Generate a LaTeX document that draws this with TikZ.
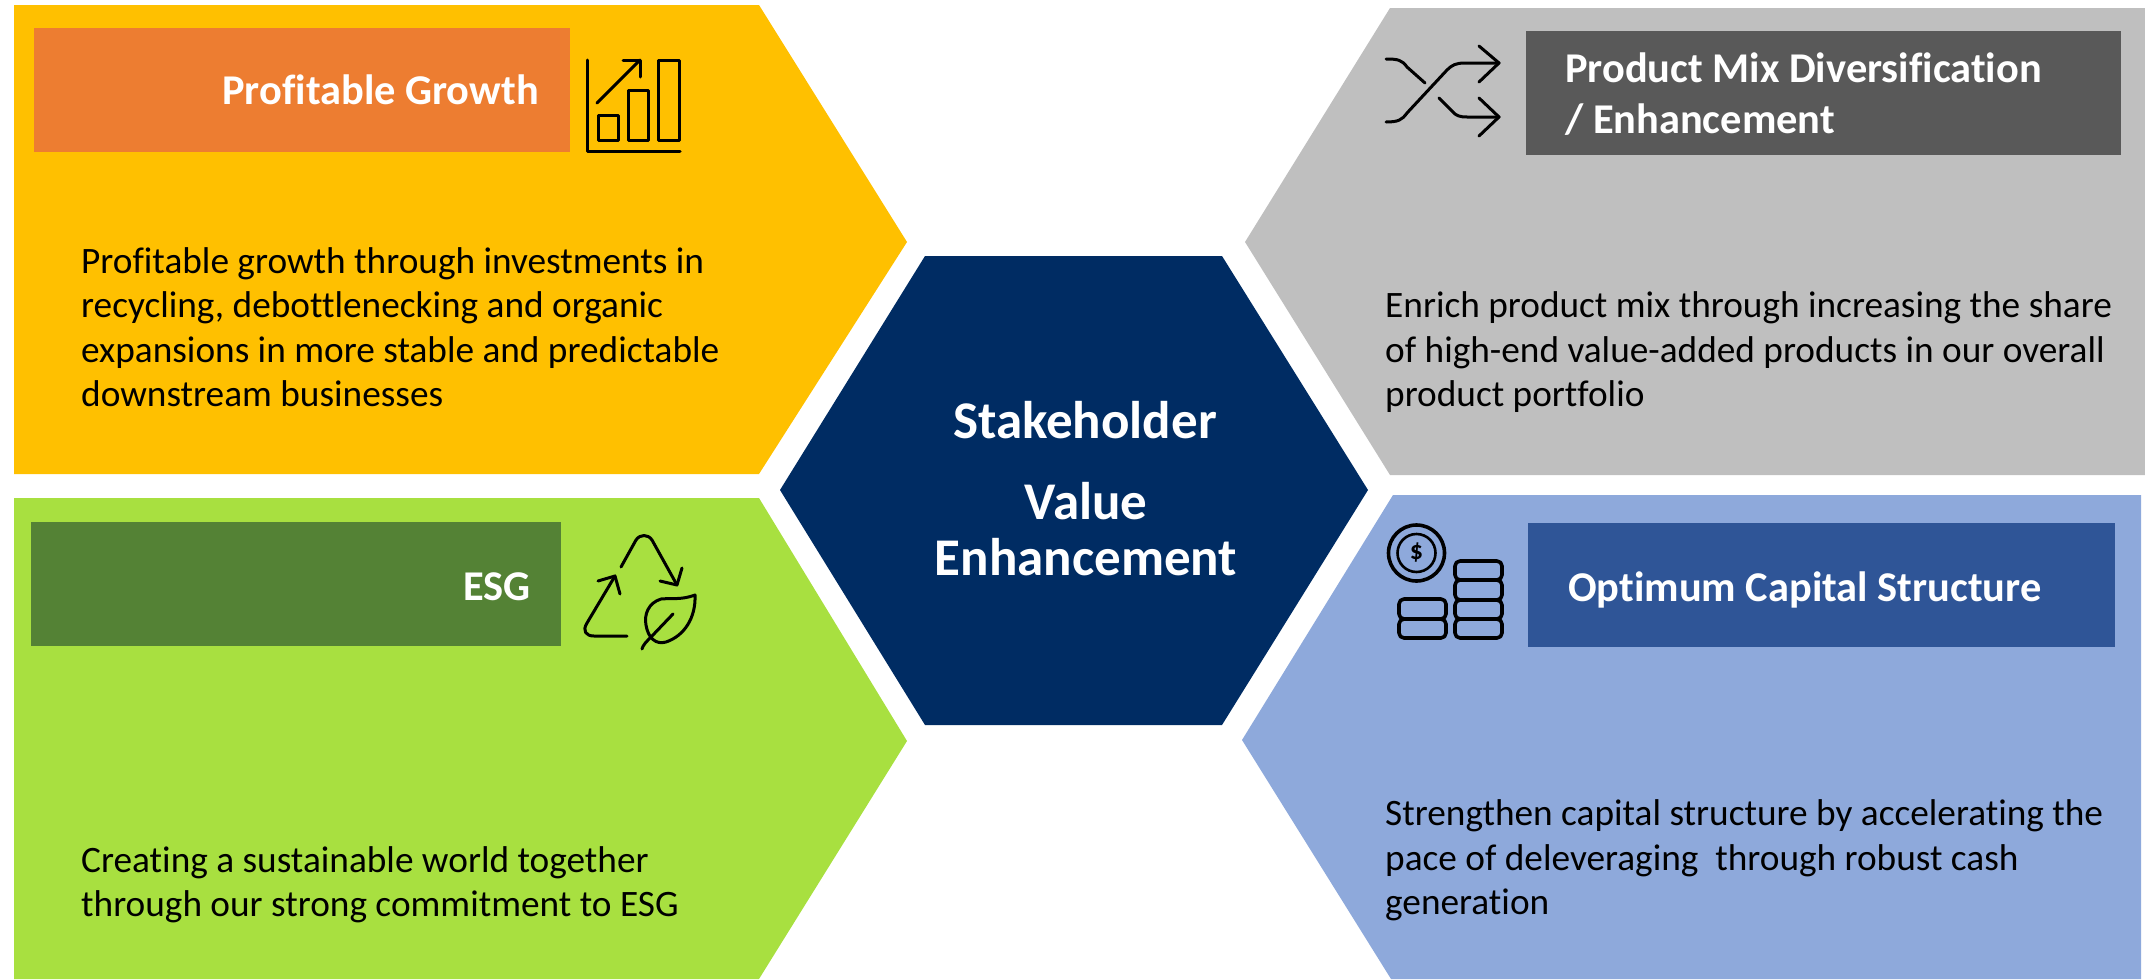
\documentclass[tikz,border=0pt]{standalone}
\usepackage{fontspec}
\setmainfont[Ligatures=CommonOff]{Carlito}
\tikzset{
 x=1pt,y=-1pt,
 bodytxt/.style={anchor=base west,inner sep=0pt,text=black,font=\fontsize{37.3}{44}\selectfont},
 headtxt/.style={inner sep=0pt,text=white,font=\fontsize{42.4}{50}\selectfont\bfseries},
 centertxt/.style={anchor=base,inner sep=0pt,text=white,font=\fontsize{53}{60}\selectfont\bfseries},
 icon/.style={draw=black,line width=3pt,line cap=round,line join=round},
 coinline/.style={icon,line width=3.6pt,rounded corners=5pt},
}
\definecolor{cyel}{HTML}{FFC000}\definecolor{cora}{HTML}{ED7D31}
\definecolor{cgry}{HTML}{BFBFBF}\definecolor{cdgr}{HTML}{595959}
\definecolor{cgrn}{HTML}{A8E040}\definecolor{cdgn}{HTML}{548235}
\definecolor{cblu}{HTML}{8EA9DB}\definecolor{cdbl}{HTML}{2F5597}
\definecolor{cnav}{HTML}{002C63}
\begin{document}
\begin{tikzpicture}
\useasboundingbox (0,0) rectangle (2145,980);
% panels
\fill[cyel] (14,5)--(759,5)--(907,242)--(759,474)--(14,474)--cycle;
\fill[cgry] (1390,8)--(2145,8)--(2145,475)--(1390,475)--(1245,242)--cycle;
\fill[cgrn] (14,498)--(759,498)--(907,741)--(759,979)--(14,979)--cycle;
\fill[cblu] (1393,495)--(2141,495)--(2141,979)--(1391,979)--(1242,740)--cycle;
\fill[cnav] (925,256)--(1222,256)--(1368,490)--(1222,725)--(925,725)--(780,490)--cycle;
% header bars
\fill[cora] (34,28) rectangle (570,152);
\fill[cdgr] (1526,31) rectangle (2121,155);
\fill[cdgn] (31,522) rectangle (561,646);
\fill[cdbl] (1528,523) rectangle (2115,647);
% header text
\node[headtxt,anchor=base east] (h1) at (539,104) {Profitable Growth};
\node[headtxt,anchor=base west] (h2a) at (1565,82) {Product Mix Diversification};
\node[headtxt,anchor=base west] (h2b) at (1565,133) {/ Enhancement};
\node[headtxt,anchor=base east] (h3) at (531,600) {ESG};
\node[headtxt,anchor=base west] (h4) at (1568,601) {Optimum Capital Structure};
% centre
\node[centertxt] (c1) at (1085,438) {Stakeholder};
\node[centertxt] (c2) at (1086,519) {Value};
\node[centertxt] (c3) at (1086,575) {Enhancement};
% body
\node[bodytxt] (b1a) at (81,273) {Profitable growth through investments in};
\node[bodytxt] (b1b) at (81,317) {recycling, debottlenecking and organic};
\node[bodytxt] (b1c) at (81,362) {expansions in more stable and predictable};
\node[bodytxt] (b1d) at (81,406) {downstream businesses};
\node[bodytxt] (b2a) at (1385,317) {Enrich product mix through increasing the share};
\node[bodytxt] (b2b) at (1385,362) {of high-end value-added products in our overall};
\node[bodytxt] (b2c) at (1385,406) {product portfolio};
\node[bodytxt] (b3a) at (81,872) {Creating a sustainable world together};
\node[bodytxt] (b3b) at (81,916) {through our strong commitment to ESG};
\node[bodytxt] (b4a) at (1385,825) {Strengthen capital structure by accelerating the};
\node[bodytxt] (b4b) at (1385,870) {pace of deleveraging\ \ through robust cash};
\node[bodytxt] (b4c) at (1385,914) {generation};
% chart icon
\draw[icon] (587,60)--(587,151)--(680,151);
\draw[icon] (598,115) rectangle (618,140);
\draw[icon] (628,90) rectangle (648,140);
\draw[icon] (658,60) rectangle (679,140);
\draw[icon] (597,103)--(640,60);
\draw[icon] (623,60)--(640,60)--(640,77);
% shuffle icon
\draw[icon] (1386,59) .. controls (1398,59) and (1402,60) .. (1407,67) -- (1425,83);
\draw[icon] (1386,122) .. controls (1398,122) and (1402,120) .. (1407,113) -- (1447,70) .. controls (1452,65) and (1456,63) .. (1465,63) -- (1499,63);
\draw[icon] (1479,46)--(1499,63)--(1479,82);
\draw[icon] (1439,98)--(1452,111) .. controls (1456,116) and (1460,117) .. (1467,117) -- (1499,117);
\draw[icon] (1479,98)--(1499,117)--(1479,136);
% recycle + leaf icon
\draw[icon] (621,567)--(636,540) .. controls (640,534) and (648,534) .. (652,540) -- (677,585);
\draw[icon] (660,581)--(677,585)--(682,568);
\draw[icon] (615,576)--(587,623) .. controls (582,631) and (586,636) .. (594,636) -- (627,636);
\draw[icon] (598,581)--(615,576)--(620,594);
\draw[icon] (695,595) .. controls (682,600) and (672,598) .. (661,599) .. controls (648,603) and (644,615) .. (646,625) .. controls (648,638) and (656,645) .. (666,642) .. controls (684,636) and (696,618) .. (695,595) -- cycle;
\draw[icon] (673,614)--(652,636) .. controls (646,642) and (643,645) .. (642,649);
% coin icon
\draw[icon,line width=3.6pt] (1416.5,553) circle (28);
\draw[icon,line width=2.6pt] (1416.5,553) circle (19);
\node[inner sep=0pt,text=black,font=\fontsize{26}{26}\selectfont\bfseries] (dollar) at (1416.5,553) {\$};
\draw[coinline] (1455,561) rectangle (1502,580);
\draw[coinline] (1455,580) rectangle (1502,600);
\draw[coinline] (1455,600) rectangle (1502,619);
\draw[coinline] (1455,619) rectangle (1502,638);
\draw[coinline] (1399,599) rectangle (1446,619);
\draw[coinline] (1399,619) rectangle (1446,638);
\end{tikzpicture}
\end{document}
